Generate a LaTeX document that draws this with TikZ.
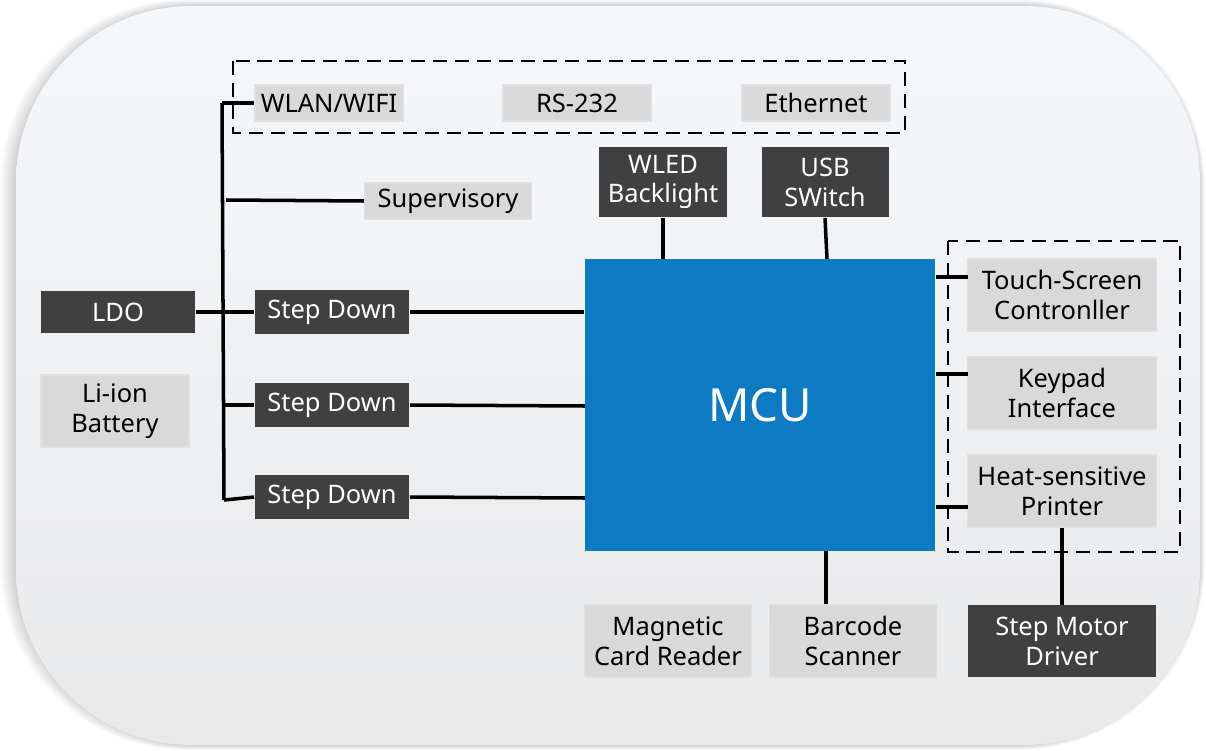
\documentclass[tikz,border=0pt]{standalone}
\usepackage{fontspec}
\setmainfont{Noto Sans}
\usepackage{xcolor}
\definecolor{mcublue}{HTML}{0D7BC4}
\definecolor{darkbox}{HTML}{404040}
\definecolor{lightbox}{HTML}{D9D9D9}
\definecolor{bgtop}{HTML}{F5F8FB}
\definecolor{bgbottom}{HTML}{E9E9EA}

\begin{document}
\begin{tikzpicture}[x=0.02cm, y=-0.02cm,
    darkblk/.style={fill=darkbox, text=white, inner sep=0pt, align=center, font=\fontsize{14.5}{17}\selectfont},
    lightblk/.style={fill=lightbox, draw=black!12, line width=0.6pt, text=black, inner sep=0pt, align=center, font=\fontsize{14.5}{17}\selectfont},
    wire/.style={black, line width=2pt},
    group/.style={black, line width=1.3pt, dash pattern=on 8pt off 4.5pt}]
		\useasboundingbox (0,0) rectangle (1206,750);
		\fill[white] (0,0) rectangle (1206,750);
		% soft shadow round the card
		\foreach \o in {1,2,...,16}{
		  \fill[black, opacity=0.012, rounded corners=105] (16-\o,6-\o*0.4) rectangle (1200+\o*0.3,745+\o*0.3);
		}
		\shade[top color=bgtop, bottom color=bgbottom, rounded corners=100] (16,6) rectangle (1200,745);

		% dashed groups
		\draw[group] (233,61) rectangle (905,133);
		\draw[group] (948,241) rectangle (1180,552);

		% interface blocks
		\node[lightblk, minimum width=2.96cm, minimum height=0.72cm] (Wlan) at (329,103) {WLAN/WIFI};
		\node[lightblk, minimum width=2.96cm, minimum height=0.72cm] (Rs) at (577,103) {RS-232};
		\node[lightblk, minimum width=2.96cm, minimum height=0.72cm] (Eth) at (816,103) {Ethernet};
		\node[darkblk, minimum width=2.56cm, minimum height=1.42cm] (Wled) at (663,182) {WLED\\Backlight};
		\node[darkblk, minimum width=2.54cm, minimum height=1.42cm] (Usb) at (825,182) {USB\\SWitch};
		\node[lightblk, minimum width=3.34cm, minimum height=0.72cm] (Super) at (448,201) {Supervisory};

		% power blocks
		\node[darkblk, minimum width=3.1cm, minimum height=0.86cm] (Ldo) at (118,312) {LDO};
		\node[lightblk, minimum width=2.96cm, minimum height=1.44cm] (Batt) at (115,411) {Li-ion\\Battery};
		\node[darkblk, minimum width=3.1cm, minimum height=0.88cm] (StepA) at (332,312) {Step Down};
		\node[darkblk, minimum width=3.1cm, minimum height=0.88cm] (StepB) at (332,405) {Step Down};
		\node[darkblk, minimum width=3.1cm, minimum height=0.88cm] (StepC) at (332,497) {Step Down};

		% the controller
		\node[fill=mcublue, text=white, minimum width=7.02cm, minimum height=5.84cm, font=\fontsize{26}{30}\selectfont] (Mcu) at (760,405) {MCU};

		% peripherals
		\node[lightblk, minimum width=3.78cm, minimum height=1.44cm] (Touch) at (1062,295) {Touch-Screen\\Contronller};
		\node[lightblk, minimum width=3.78cm, minimum height=1.44cm] (Keypad) at (1062,393) {Keypad\\Interface};
		\node[lightblk, minimum width=3.78cm, minimum height=1.44cm] (Printer) at (1062,491) {Heat-sensitive\\Printer};
		\node[lightblk, minimum width=3.34cm, minimum height=1.44cm] (Card) at (668,641) {Magnetic\\Card Reader};
		\node[lightblk, minimum width=3.34cm, minimum height=1.44cm] (Barcode) at (853,641) {Barcode\\Scanner};
		\node[darkblk, minimum width=3.78cm, minimum height=1.44cm] (Motor) at (1062,641) {Step Motor\\Driver};

		% power bus
		\coordinate (BusTop) at (222,103);
		\coordinate (BusBot) at (224,500);
		\draw[wire] (BusTop) -- (BusBot);
		\draw[wire] (BusTop) -- (Wlan.west);
		\draw[wire] (226,200) -- (Super.west);
		\draw[wire] (Ldo.east) -- (StepA.west);
		\draw[wire] (224,405) -- (StepB.west);
		\draw[wire] (BusBot) -- (StepC.west);

		% links into the MCU
		\draw[wire] (StepA.east) -- (StepA.east -| Mcu.west);
		\draw[wire] (StepB.east) -- (585,406);
		\draw[wire] (StepC.east) -- (585,498);
		\draw[wire] (Wled.south) -- (Wled.south |- Mcu.north);
		\draw[wire] (Usb.south) -- (827,259);
		\draw[wire] (936,277) -- (968,277);
		\draw[wire] (936,374) -- (968,374);
		\draw[wire] (936,507) -- (968,507);
		\draw[wire] (826,551) -- (Barcode.north -| 826,0);
		\draw[wire] (Printer.south) -- (Motor.north);
	  \end{tikzpicture}
\end{document}
